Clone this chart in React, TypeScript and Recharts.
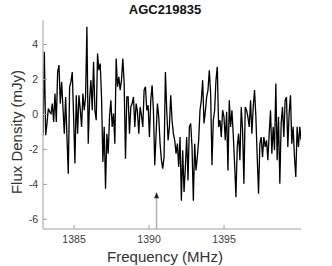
import React from 'react';
import { LineChart, Line, XAxis, YAxis, ReferenceLine, ReferenceDot } from 'recharts';

// channel grid of the spectrum (MHz)
const FREQ_START = 1382.93;
const CHANNEL_WIDTH = 0.0887;

const flux: number[] = [
  -1.19, 3.58, -1.19, -0.52, 0.34, 0.15, 0.05, 0.62, -0.43, 1.19, -0.43,
  2.42, 2.82, 0.62, 1.86, 0.4, -1.1, 1.0, -1.29, -3.39, 1.58, 1.86,
  2.42, -0.14, -2.81, 1.1, -1.1, 1.1, 0.3, -0.71, 1.19, 0.24, 1.0,
  5.01, -1.67, 0.81, 1.96, 0.24, 3.01, 0.24, -0.33, 3.48, 2.53,
  2.91, 1.0, -2.72, -0.71, -4.25, -1.1, -2.24, -0.14, 0.81, -0.71,
  0.05, -1.67, 3.2, 1.58, 2.15, 1.39, 1.96, 3.2, 1.77, -2.53,
  1.0, 1.0, -1.1, 0.43, 0.62, 1.0, -0.71, 0.62, 0.15, -1.1,
  0.43, -0.05, -0.71, 1.39, 1.58, 0.24, 0.53, -1.29, 0.81, 1.67,
  0.24, -2.91, -1.1, 0.62, -0.14, -1.67, -2.62, -3.1, -2.43, 2.42,
  0.24, -1.48, -0.71, 1.1, -0.33, -1.1, -1.48, -2.24, -1.67, -3.0,
  -1.29, -4.93, -2.05, -4.43, -3.0, -1.29, -3.77, -0.71, -0.52, -1.86,
  -4.93, -1.67, -3.2, -2.43, -1.48, 0.24, 0.81, 1.96, -0.52, 0.15,
  1.0, 1.39, 2.53, 1.19, -2.91, -0.33, 0.24, 1.96, 2.72, -0.71,
  -0.33, -1.29, 0.24, -0.14, -1.48, 0.15, -3.2, 0.81, -0.71, 0.24,
  -1.19, -2.81, -4.74, -1.86, -1.1, -2.62, 0.43, -0.9, -3.96, 0.43,
  0.24, -0.14, -0.71, 0.81, -1.1, 0.43, 1.39, -0.14, -2.43, -4.53,
  -1.67, -1.29, -2.43, -1.29, -1.86, -1.48, -2.62, -1.1, 0.24, -2.24,
  -0.71, -2.05, 1.77, -2.62, -0.14, -3.96, -0.52, 0.43, -1.29, 0.81,
  1.0, -1.86, 0.05, 1.1, -1.67, -0.71, -2.43, -3.58, -0.71, -1.86,
  -0.71, -1.48,
];

const xTicks = [1385, 1390, 1395];
const yTicks = [-6, -4, -2, 0, 2, 4];
const xDomain: [number, number] = [1382.93, 1400.13];
const yDomain: [number, number] = [-6.55, 5.4];

// expected position of the source
const arrowFreq = 1390.5;
const arrowBase = -6.55;
const arrowTip = -4.45;

const data = flux.map((v, i) => ({ f: FREQ_START + i * CHANNEL_WIDTH, v }));

const FONT = '"Liberation Sans", Arial, sans-serif';
const AXIS = '#a0a0a0';
const TICK_TEXT = { fontSize: 10.5, fill: '#3a3a3a', fontFamily: FONT };

const ArrowHead = (props: any) => {
  const { cx, cy } = props;
  return <path d={`M${cx},${cy} L${cx - 2.5},${cy + 6} L${cx + 2.5},${cy + 6} Z`} fill="#222" />;
};

const App: React.FC = () => {
  return (
    <div style={{ position: 'absolute', left: 0, top: 0, width: 332, height: 266, background: '#fff', fontFamily: FONT }}>
      <LineChart width={332} height={266} data={data} margin={{ top: 20, right: 31, bottom: 0, left: 0 }}>
        <XAxis
          dataKey="f"
          type="number"
          domain={xDomain}
          ticks={xTicks}
          allowDataOverflow
          height={37}
          stroke={AXIS}
          tickSize={-4}
          tickMargin={11}
          tick={TICK_TEXT}
        />
        <XAxis
          xAxisId="top"
          orientation="top"
          type="number"
          domain={xDomain}
          ticks={xTicks}
          allowDataOverflow
          height={0}
          stroke={AXIS}
          tickSize={-4}
          tick={false}
        />
        <YAxis
          type="number"
          domain={yDomain}
          ticks={yTicks}
          allowDataOverflow
          width={43}
          stroke={AXIS}
          tickSize={-4}
          tickMargin={9}
          tick={TICK_TEXT}
        />
        <YAxis
          yAxisId="right"
          orientation="right"
          type="number"
          domain={yDomain}
          ticks={yTicks}
          allowDataOverflow
          width={0}
          stroke={AXIS}
          tickSize={-4}
          tick={false}
        />
        <ReferenceLine
          segment={[{ x: arrowFreq, y: arrowBase }, { x: arrowFreq, y: arrowTip - 0.1 }]}
          stroke="#b0b0b0"
          strokeWidth={1.5}
          ifOverflow="visible"
        />
        <ReferenceDot x={arrowFreq} y={arrowTip} r={0} shape={ArrowHead} ifOverflow="visible" />
        <Line
          type="linear"
          dataKey="v"
          stroke="#000"
          strokeWidth={1.3}
          dot={false}
          isAnimationActive={false}
        />
      </LineChart>
      <div style={{ position: 'absolute', left: 0, width: 330, top: 2, textAlign: 'center', fontSize: 13, fontWeight: 'bold', color: '#111', lineHeight: '16px' }}>
        AGC219835
      </div>
      <div style={{ position: 'absolute', left: 0, width: 330, top: 248, textAlign: 'center', fontSize: 15, color: '#333', lineHeight: '18px' }}>
        Frequency (MHz)
      </div>
      <div
        style={{
          position: 'absolute',
          left: 17,
          top: 132,
          transform: 'translate(-50%, -50%) rotate(-90deg)',
          whiteSpace: 'nowrap',
          fontSize: 15,
          color: '#333',
          lineHeight: '18px',
        }}
      >
        Flux Density (mJy)
      </div>
    </div>
  );
};

export default App;
